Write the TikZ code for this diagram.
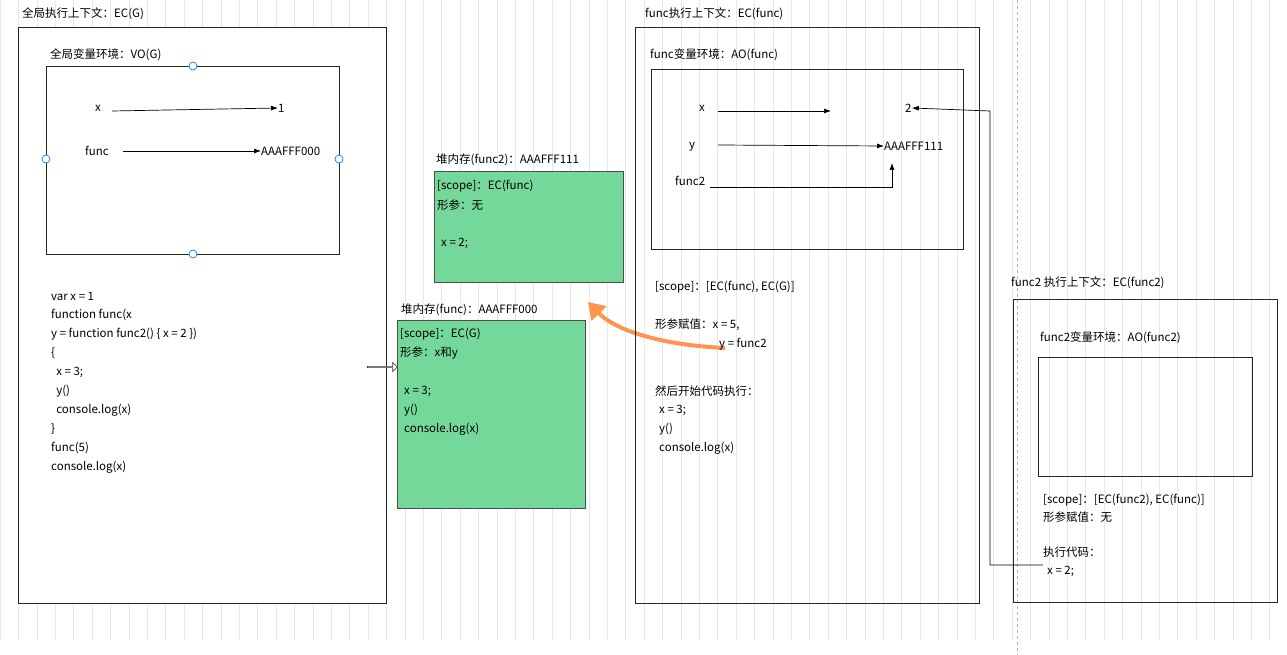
\documentclass[tikz,border=0pt]{standalone}
\usepackage{fontspec}
\setmainfont{Noto Sans CJK SC}
\usetikzlibrary{arrows.meta,shapes.arrows}
\begin{document}
\begin{tikzpicture}[x=1pt,y=-1pt,
  t/.style={anchor=west,inner sep=0pt,font=\fontsize{11.5}{13}\selectfont},
  box/.style={draw=black!85,line width=0.7pt},
  heap/.style={draw=black!70,fill=green!45!teal!55!white,line width=0.7pt},
  arr/.style={-{Latex[length=7pt,width=5pt]},line width=0.7pt},
  hdl/.style={circle,draw=blue!50!cyan,fill=white,inner sep=0pt,minimum size=8pt,line width=0.7pt}]
\useasboundingbox (0,0) rectangle (1287,655);
\fill[white] (0,0) rectangle (1287,655);
\draw[black!9,line width=0.5pt,step=18.4] (0,0) grid (1287,640);
\draw[black!30,dashed] (1017,0) -- (1017,655);
% global EC
\node[t] (tg) at (22,14) {全局执行上下文：EC(G)};
\draw[box,fill=white] (18,27) rectangle (386,603);
\node[t] (tvo) at (50,55) {全局变量环境：VO(G)};
\draw[box] (46,66) rectangle (339,254);
\node[hdl] at (193,66) {};\node[hdl] at (193,254) {};\node[hdl] at (46,159) {};\node[hdl] at (339,159) {};
\node[t] (gx) at (95,108) {x};
\node[t] (g1) at (278,108) {1};
\draw[arr] (112,111) -- (g1.west);
\node[t] (gf) at (85,151) {func};
\node[t] (ga) at (261,151) {AAAFFF000};
\draw[arr] (123,151) -- (ga.west);
\foreach \s [count=\i from 0] in {var x = 1,function func(x, y = function func2() \{ x = 2 \}),\{,\ \ x = 3;,\ \ y(),\ \ console.log(x),\},func(5),console.log(x)}
  \node[t] at (51,296+19*\i) {\s};
% heap func2
\node[t] (h2t) at (436,160) {堆内存(func2)：AAAFFF111};
\draw[heap] (434,171) rectangle (623,282);
\node[t] at (437,186) {[scope]：EC(func)};
\node[t] at (437,205) {形参：无};
\node[t] at (441,243) {x = 2;};
% heap func
\node[t] (h1t) at (401,310) {堆内存(func)：AAAFFF000};
\draw[heap] (397,320) rectangle (585,508);
\node[t] at (400,334) {[scope]：EC(G)};
\node[t] at (400,353) {形参：x和y};
\node[t] at (404,391) {x = 3;};
\node[t] at (404,410) {y()};
\node[t] at (404,429) {console.log(x)};
\node[single arrow,draw=black!80,fill=white,minimum height=30pt,minimum width=9pt,single arrow head extend=2pt,inner sep=0pt,line width=0.6pt] (ha) at (382,367) {};
% orange arrow
\coordinate (os) at (725,348);
\coordinate (oe) at (588,302);
\draw[-{Triangle[length=16pt,width=20pt]},color=orange!80!red!70!white,line width=4pt] (os) .. controls (660,345) and (615,330) .. (oe);
% func EC
\node[t] (tf) at (645,14) {func执行上下文：EC(func)};
\draw[box] (635,27) rectangle (979,603);
\node[t] at (650,55) {func变量环境：AO(func)};
\draw[box] (651,69) rectangle (963,249);
\node[t] (fx) at (699,108) {x};
\node[t] (f2) at (905,108) {2};
\draw[arr] (718,111) -- (831,111);
\node[t] (fy) at (689,147) {y};
\node[t] (fa) at (884,146) {AAAFFF111};
\draw[arr] (718,145) -- (fa.west);
\node[t] (ff2) at (675,181) {func2};
\draw[arr] (710,187) -- (892,187) -- (892,163);
\node[t] at (655,287) {[scope]：[EC(func), EC(G)]};
\node[t] at (655,325) {形参赋值：x = 5,};
\node[t] at (719,344) {y = func2};
\node[t] at (655,391) {然后开始代码执行：};
\node[t] at (659,410) {x = 3;};
\node[t] at (659,429) {y()};
\node[t] at (659,448) {console.log(x)};
% func2 EC
\node[t] (tf2) at (1011,283) {func2 执行上下文：EC(func2)};
\draw[box] (1013,299) rectangle (1277,602);
\node[t] at (1040,338) {func2变量环境：AO(func2)};
\draw[box] (1038,357) rectangle (1252,476);
\node[t] at (1043,500) {[scope]：[EC(func2), EC(func)]};
\node[t] at (1043,517) {形参赋值：无};
\node[t] at (1043,552) {执行代码：};
\node[t] (fx2) at (1047,571) {x = 2;};
\draw[arr] (1043,565) -- (990,565) -- (990,111) -- (f2.east);
\end{tikzpicture}
\end{document}
